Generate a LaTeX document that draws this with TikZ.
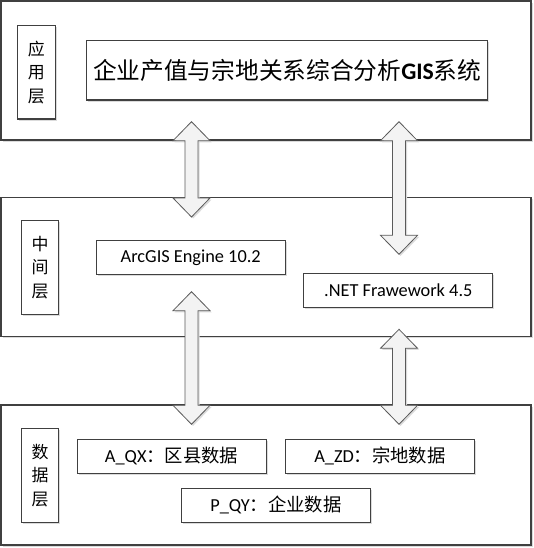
\documentclass[tikz,border=0pt]{standalone}
\usepackage{fontspec}
\setmainfont{Carlito}
\newfontfamily\cjk{Noto Sans CJK SC}
\usetikzlibrary{calc,shadows}
\definecolor{ln}{HTML}{404040}
\definecolor{arrln}{HTML}{5A5A5A}
\definecolor{arrfill}{HTML}{F3F3F3}
\tikzset{
  shad/.style={drop shadow={shadow xshift=1.6bp, shadow yshift=-1.6bp, fill=black!14, opacity=1}},
  layerbox/.style={draw=ln, line width=1.1bp, fill=white, rectangle, inner sep=0pt, shad,
    minimum width=530bp},
  labelbox/.style={draw=ln, line width=1.1bp, fill=white, rectangle, inner sep=0pt, shad,
    align=center, font=\cjk\fontsize{17}{23.5}\selectfont, minimum width=37.5bp, minimum height=94bp},
  itembox/.style={draw=ln, line width=1.1bp, fill=white, rectangle, inner sep=0pt, shad,
    font=\fontsize{18.4}{21}\selectfont, minimum width=189bp, minimum height=34bp},
  arrowbody/.style={draw=arrln, line width=0.8bp, fill=arrfill, line join=miter, shad}
}
\newcommand\blockarrow[2]{%
  \draw[arrowbody] (#1) -- ($(#1)+(18.5,19)$) -- ($(#1)+(6.5,19)$) -- ($(#2)+(6.5,-19)$)
    -- ($(#2)+(18.5,-19)$) -- (#2) -- ($(#2)+(-18.5,-19)$) -- ($(#2)+(-6.5,-19)$)
    -- ($(#1)+(-6.5,19)$) -- ($(#1)+(-18.5,19)$) -- cycle;}
\begin{document}
\begin{tikzpicture}[x=1bp,y=-1bp]
\useasboundingbox (0,0) rectangle (534,548);
% layers
\node[layerbox, minimum height=139bp] (app) at (266,70.5) {};
\node[layerbox, minimum height=139.4bp] (mid) at (266,267) {};
\node[layerbox, minimum height=140bp] (data) at (266,475) {};
% layer labels
\node[labelbox, minimum width=38bp, minimum height=93.7bp] (appL) at (36.3,72.2) {应\\用\\层};
\node[labelbox] (midL) at (40,267.5) {中\\间\\层};
\node[labelbox] (dataL) at (40,475.3) {数\\据\\层};
% application
\node[draw=ln, line width=1.1bp, fill=white, inner sep=0pt, shad,
  minimum width=401bp, minimum height=59.3bp, font=\fontsize{23.8}{27}\selectfont]
  (title) at (287.2,70.4) {{\cjk 企业产值与宗地关系综合分析}\textbf{GIS}{\cjk 系统}};
% middle
\node[itembox] (arcgis) at (190.7,257.5) {ArcGIS Engine 10.2};
\node[itembox] (net) at (398.3,290.3) {.NET Frawework 4.5};
% data
\node[itembox] (aqx) at (171.6,456.2) {A\_QX{\cjk ：区县数据}};
\node[itembox] (azd) at (379.9,456.2) {A\_ZD{\cjk ：宗地数据}};
\node[itembox] (pqy) at (275.9,505.3) {P\_QY{\cjk ：企业数据}};
% arrow tips
\coordinate (a1t) at (191.5,121.7);
\coordinate (a1b) at (191.5,217);
\coordinate (a2t) at (399,121.7);
\coordinate (a2b) at (399,254.3);
\coordinate (a3t) at (191.5,291.7);
\coordinate (a3b) at (191.5,424.3);
\coordinate (a4t) at (399,329.3);
\coordinate (a4b) at (399,424.3);
\blockarrow{a1t}{a1b}
\blockarrow{a2t}{a2b}
\blockarrow{a3t}{a3b}
\blockarrow{a4t}{a4b}
\end{tikzpicture}
\end{document}
